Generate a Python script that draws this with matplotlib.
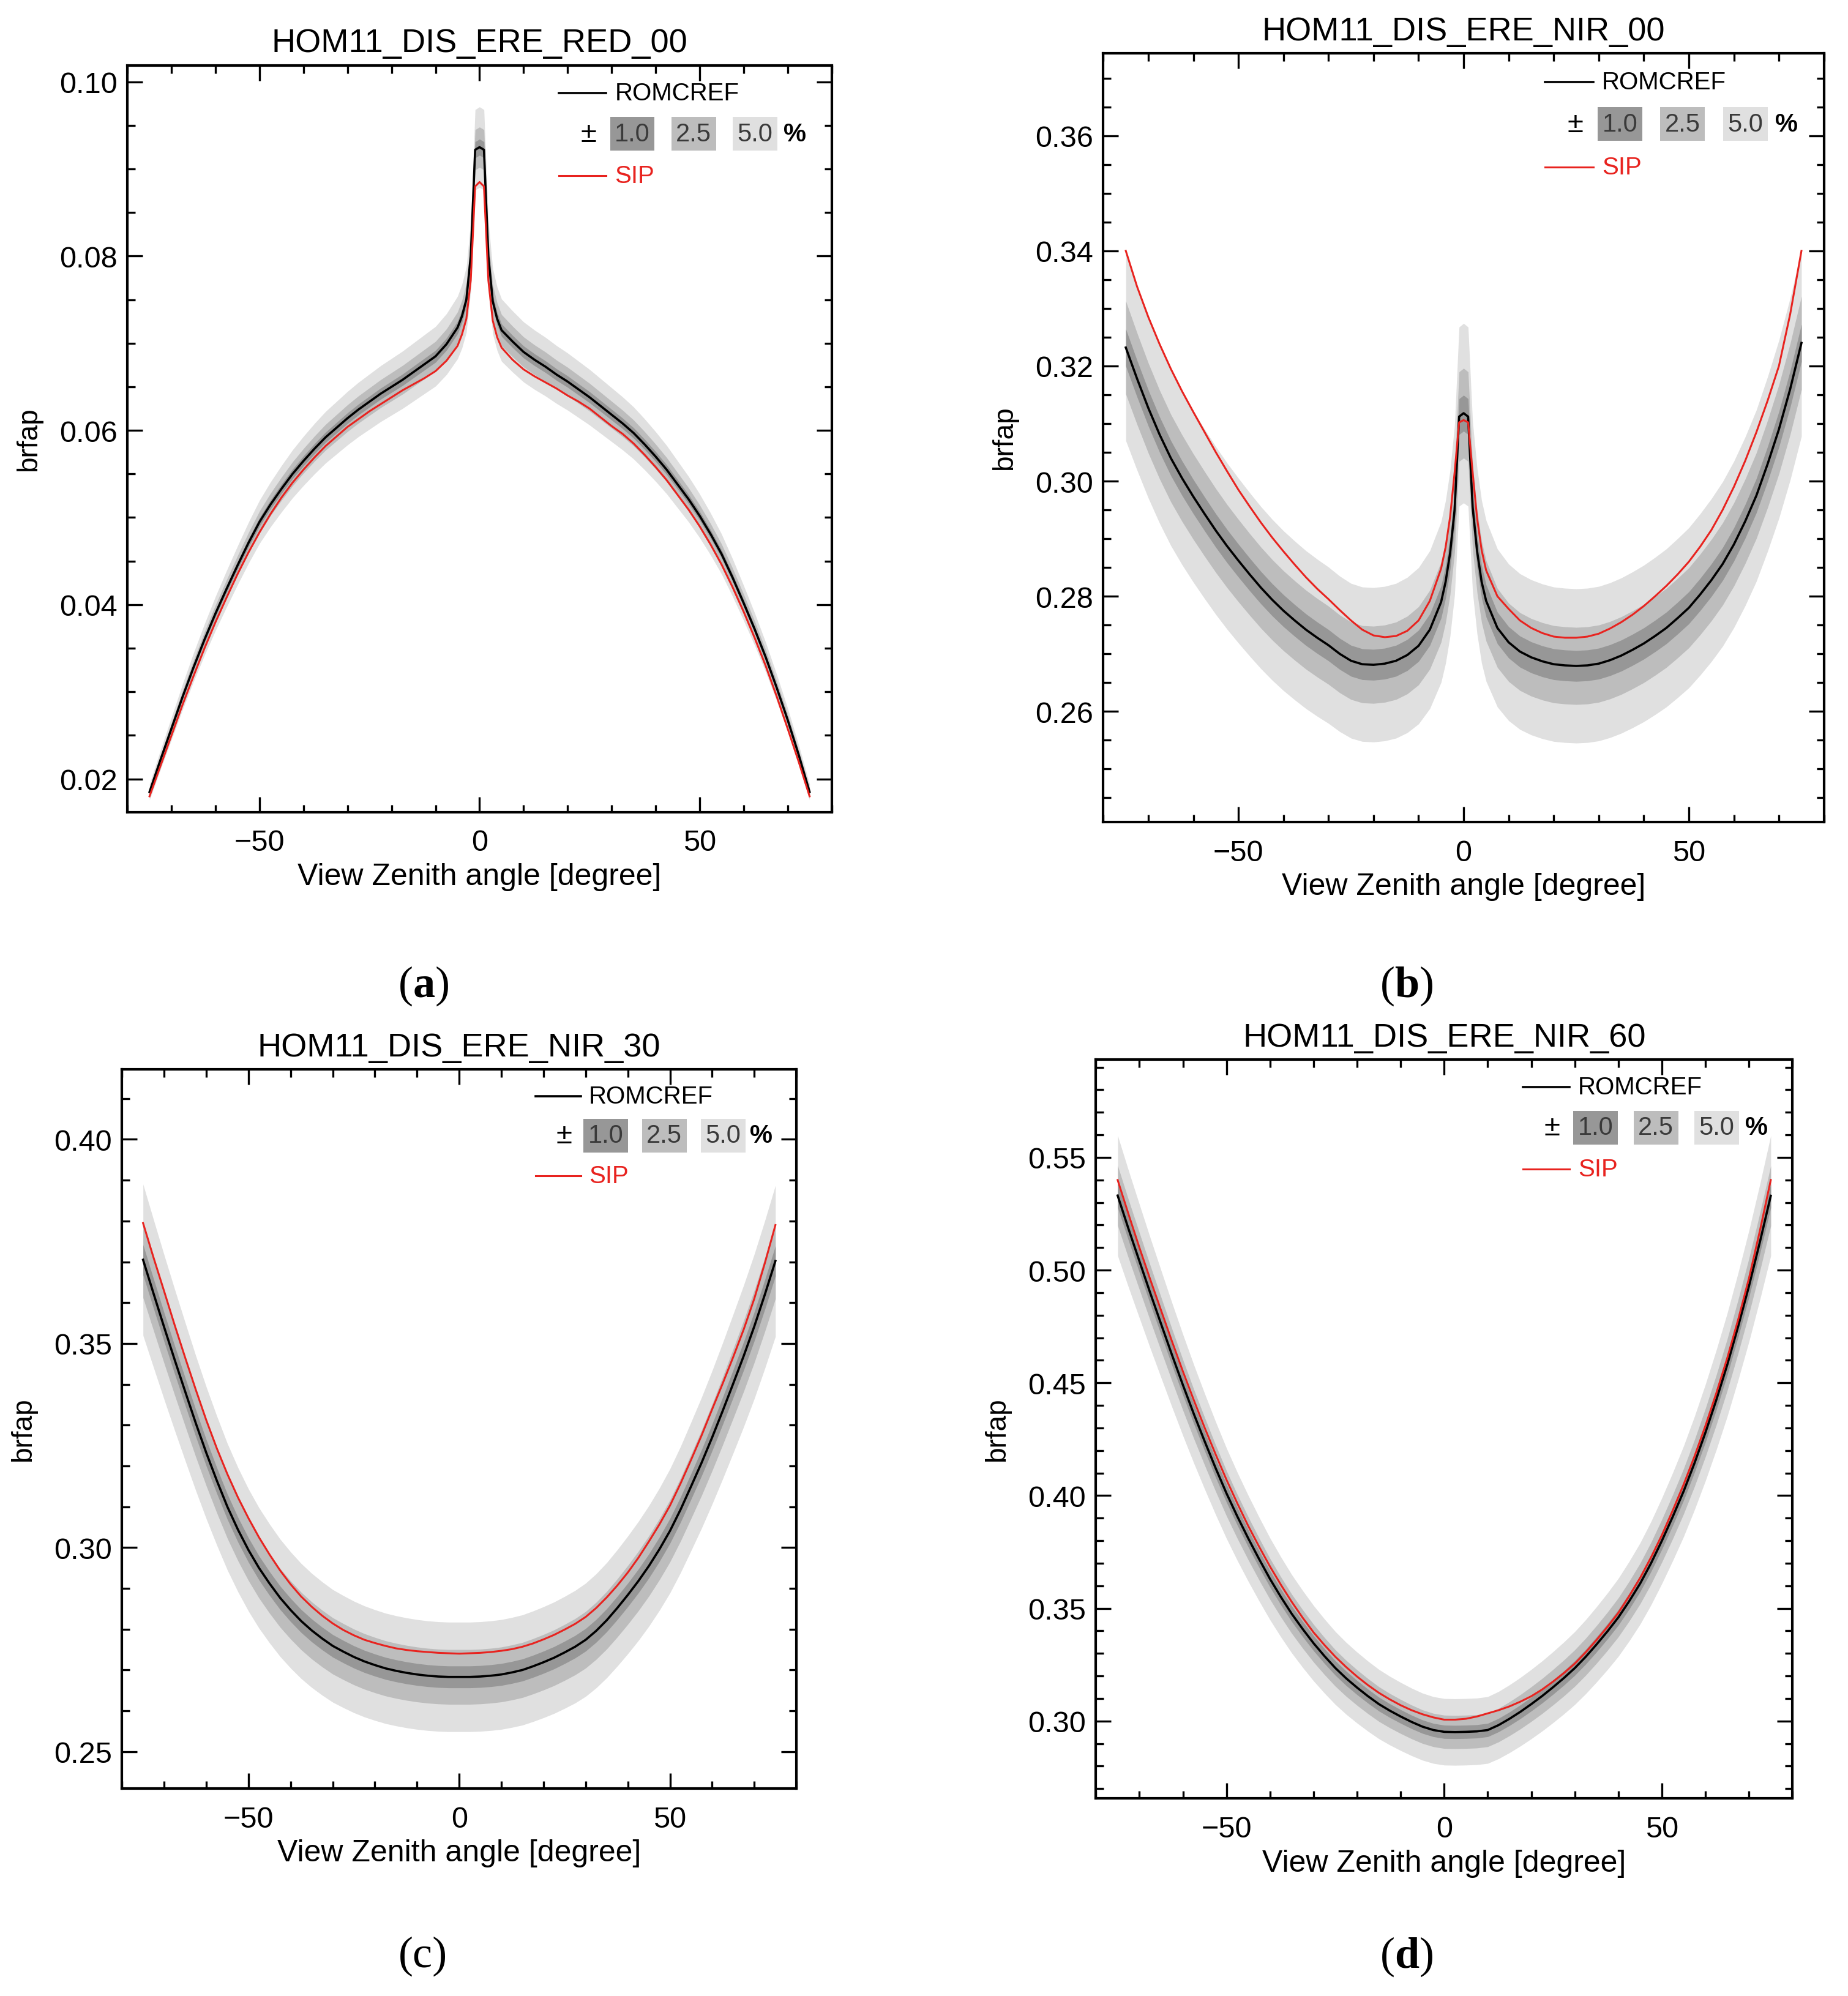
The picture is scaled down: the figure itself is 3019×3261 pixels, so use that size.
import matplotlib
matplotlib.use('Agg')
import matplotlib.pyplot as plt
from matplotlib.ticker import MultipleLocator, FormatStrFormatter

plt.rcParams['font.family'] = ['Liberation Sans', 'DejaVu Sans']
plt.rcParams['mathtext.fontset'] = 'custom'
plt.rcParams['mathtext.rm'] = 'Liberation Serif'
plt.rcParams['mathtext.bf'] = 'Liberation Serif:bold'

# view zenith angles (deg)
ang_peak = [-75, -72.5, -70, -67.5, -65, -62.5, -60, -57.5, -55, -52.5, -50, -47.5, -45, -42.5, -40,
            -37.5, -35, -32.5, -30, -27.5, -25, -22.5, -20, -17.5, -15, -12.5, -10, -7.5, -5,
            -4, -3, -2, -1, 0, 1, 2, 3, 4,
            5, 7.5, 10, 12.5, 15, 17.5, 20, 22.5, 25, 27.5, 30, 32.5, 35, 37.5, 40, 42.5, 45,
            47.5, 50, 52.5, 55, 57.5, 60, 62.5, 65, 67.5, 70, 72.5, 75]
ang_smooth = [-75, -72.5, -70, -67.5, -65, -62.5, -60, -57.5, -55, -52.5, -50, -47.5, -45, -42.5, -40,
              -37.5, -35, -32.5, -30, -27.5, -25, -22.5, -20, -17.5, -15, -12.5, -10, -7.5, -5, -2.5, 0,
              2.5, 5, 7.5, 10, 12.5, 15, 17.5, 20, 22.5, 25, 27.5, 30, 32.5, 35, 37.5, 40, 42.5, 45,
              47.5, 50, 52.5, 55, 57.5, 60, 62.5, 65, 67.5, 70, 72.5, 75]

# (a) RED 00
red00_ref = [0.0185, 0.0222, 0.0258, 0.0294, 0.0328, 0.0360, 0.0390, 0.0418, 0.0445, 0.0471, 0.0495,
             0.0515, 0.0533, 0.0550, 0.0565, 0.0579, 0.0592, 0.0603, 0.0614, 0.0624, 0.0633, 0.0642,
             0.0650, 0.0658, 0.0667, 0.0676, 0.0685, 0.0699, 0.0718,
             0.0731, 0.0750, 0.0800, 0.0922, 0.0925, 0.0922, 0.0800, 0.0748, 0.0728,
             0.0715, 0.0702, 0.0690, 0.0681, 0.0673, 0.0664, 0.0656, 0.0647, 0.0638, 0.0628, 0.0618,
             0.0608, 0.0597, 0.0584, 0.0570, 0.0555, 0.0538, 0.0521, 0.0502, 0.0481, 0.0458, 0.0431,
             0.0402, 0.0372, 0.0340, 0.0305, 0.0268, 0.0228, 0.0185]
red00_sip = [0.0180, 0.0215, 0.0250, 0.0285, 0.0318, 0.0350, 0.0380, 0.0408, 0.0435, 0.0460, 0.0483,
             0.0504, 0.0523, 0.0540, 0.0555, 0.0569, 0.0582, 0.0593, 0.0604, 0.0613, 0.0622, 0.0630,
             0.0638, 0.0646, 0.0653, 0.0660, 0.0668, 0.0680, 0.0697,
             0.0710, 0.0728, 0.0772, 0.0880, 0.0885, 0.0880, 0.0772, 0.0726, 0.0707,
             0.0695, 0.0681, 0.0670, 0.0662, 0.0655, 0.0648, 0.0640, 0.0633, 0.0625, 0.0615, 0.0605,
             0.0596, 0.0585, 0.0572, 0.0558, 0.0543, 0.0526, 0.0509, 0.0490, 0.0469, 0.0446, 0.0420,
             0.0392, 0.0362, 0.0330, 0.0295, 0.0258, 0.0220, 0.0180]

# (b) NIR 00
nir00_ref = [0.3232, 0.3178, 0.3127, 0.3081, 0.3040, 0.3005, 0.2973, 0.2943, 0.2914, 0.2887, 0.2862,
             0.2838, 0.2815, 0.2794, 0.2775, 0.2758, 0.2742, 0.2728, 0.2715, 0.2700, 0.2688, 0.2682,
             0.2681, 0.2683, 0.2688, 0.2698, 0.2714, 0.2742, 0.2790,
             0.2825, 0.2875, 0.2950, 0.3112, 0.3118, 0.3112, 0.2955, 0.2878, 0.2825,
             0.2792, 0.2745, 0.2720, 0.2704, 0.2694, 0.2687, 0.2682, 0.2680, 0.2679, 0.2680, 0.2683,
             0.2689, 0.2697, 0.2707, 0.2718, 0.2731, 0.2745, 0.2762, 0.2780, 0.2803, 0.2828, 0.2856,
             0.2890, 0.2930, 0.2975, 0.3030, 0.3090, 0.3160, 0.3240]
nir00_sip = [0.3400, 0.3338, 0.3285, 0.3238, 0.3195, 0.3156, 0.3120, 0.3085, 0.3050, 0.3017, 0.2985,
             0.2956, 0.2928, 0.2902, 0.2878, 0.2855, 0.2833, 0.2813, 0.2795, 0.2776, 0.2758, 0.2742,
             0.2732, 0.2729, 0.2731, 0.2740, 0.2758, 0.2792, 0.2848,
             0.2885, 0.2938, 0.3015, 0.3102, 0.3106, 0.3102, 0.3015, 0.2935, 0.2880,
             0.2845, 0.2800, 0.2778, 0.2758, 0.2745, 0.2736, 0.2730, 0.2728, 0.2728, 0.2730, 0.2735,
             0.2744, 0.2755, 0.2768, 0.2783, 0.2800, 0.2818, 0.2838, 0.2860, 0.2886, 0.2915, 0.2950,
             0.2990, 0.3035, 0.3085, 0.3140, 0.3200, 0.3290, 0.3400]

# (c) NIR 30
nir30_ref = [0.3705, 0.3622, 0.3540, 0.3460, 0.3382, 0.3305, 0.3232, 0.3164, 0.3100, 0.3044, 0.2994,
             0.2950, 0.2912, 0.2877, 0.2847, 0.2820, 0.2797, 0.2777, 0.2759, 0.2745, 0.2732, 0.2721,
             0.2712, 0.2704, 0.2698, 0.2693, 0.2689, 0.2686, 0.2684, 0.2683, 0.2683,
             0.2683, 0.2684, 0.2686, 0.2689, 0.2694, 0.2700, 0.2709, 0.2719, 0.2730, 0.2743, 0.2757,
             0.2774, 0.2796, 0.2822, 0.2852, 0.2884, 0.2918, 0.2955, 0.2996, 0.3041, 0.3093, 0.3150,
             0.3208, 0.3270, 0.3335, 0.3402, 0.3470, 0.3542, 0.3620, 0.3702]
nir30_sip = [0.3795, 0.3710, 0.3628, 0.3545, 0.3465, 0.3387, 0.3312, 0.3243, 0.3180, 0.3123, 0.3072,
             0.3025, 0.2983, 0.2944, 0.2910, 0.2880, 0.2855, 0.2833, 0.2814, 0.2798, 0.2785, 0.2774,
             0.2766, 0.2759, 0.2753, 0.2749, 0.2746, 0.2744, 0.2742, 0.2741, 0.2740,
             0.2741, 0.2742, 0.2744, 0.2747, 0.2751, 0.2757, 0.2765, 0.2775, 0.2786, 0.2799, 0.2813,
             0.2830, 0.2852, 0.2878, 0.2907, 0.2939, 0.2975, 0.3015, 0.3057, 0.3103, 0.3157, 0.3215,
             0.3275, 0.3339, 0.3402, 0.3467, 0.3535, 0.3610, 0.3697, 0.3790]

# (d) NIR 60
nir60_ref = [0.5331, 0.5183, 0.5040, 0.4898, 0.4760, 0.4623, 0.4490, 0.4362, 0.4240, 0.4122, 0.4010,
             0.3907, 0.3810, 0.3718, 0.3630, 0.3550, 0.3475, 0.3408, 0.3345, 0.3288, 0.3235, 0.3189,
             0.3148, 0.3110, 0.3075, 0.3046, 0.3020, 0.2996, 0.2975, 0.2960, 0.2952,
             0.2951, 0.2952, 0.2954, 0.2960, 0.2982, 0.3010, 0.3041, 0.3075, 0.3111, 0.3150, 0.3191,
             0.3235, 0.3285, 0.3340, 0.3398, 0.3460, 0.3532, 0.3610, 0.3700, 0.3800, 0.3907, 0.4020,
             0.4145, 0.4280, 0.4425, 0.4580, 0.4750, 0.4930, 0.5125, 0.5330]
nir60_sip = [0.5400, 0.5248, 0.5100, 0.4958, 0.4820, 0.4683, 0.4550, 0.4423, 0.4300, 0.4183, 0.4070,
             0.3965, 0.3865, 0.3773, 0.3685, 0.3604, 0.3528, 0.3458, 0.3393, 0.3337, 0.3285, 0.3239,
             0.3197, 0.3159, 0.3125, 0.3096, 0.3070, 0.3048, 0.3030, 0.3016, 0.3006,
             0.3006, 0.3010, 0.3020, 0.3034, 0.3048, 0.3065, 0.3086, 0.3110, 0.3140, 0.3175, 0.3213,
             0.3255, 0.3305, 0.3360, 0.3418, 0.3480, 0.3555, 0.3635, 0.3726, 0.3825, 0.3935, 0.4050,
             0.4175, 0.4310, 0.4455, 0.4610, 0.4780, 0.4965, 0.5175, 0.5400]

band_pct = [5.0, 2.5, 1.0]
band_col = ['#e0e0e0', '#bdbdbd', '#979797']

titles = ['HOM11_DIS_ERE_RED_00', 'HOM11_DIS_ERE_NIR_00', 'HOM11_DIS_ERE_NIR_30', 'HOM11_DIS_ERE_NIR_60']
panel_tags = [r'($\mathbf{a}$)', r'($\mathbf{b}$)', '(c)', r'($\mathbf{d}$)']

fig = plt.figure(figsize=(30.19, 32.62), dpi=100)
boxes = [[0.069, 0.593, 0.381, 0.374],
         [0.597, 0.588, 0.390, 0.385],
         [0.066, 0.104, 0.365, 0.360],
         [0.593, 0.099, 0.377, 0.370]]
ylims = [(0.0162, 0.1019), (0.2408, 0.3743), (0.241, 0.4171), (0.2657, 0.5934)]
ymaj = [0.02, 0.02, 0.05, 0.05]
ymin = [0.005, 0.005, 0.01, 0.01]
series = [(ang_peak, red00_ref, red00_sip), (ang_peak, nir00_ref, nir00_sip),
          (ang_smooth, nir30_ref, nir30_sip), (ang_smooth, nir60_ref, nir60_sip)]
tag_pos = [(0.229, 0.506), (0.761, 0.506), (0.229, 0.020), (0.761, 0.020)]

for i in range(4):
    ax = fig.add_axes(boxes[i])
    x, ref, sip = series[i]
    for p, c in zip(band_pct, band_col):
        lo = [v * (1 - p / 100) for v in ref]
        hi = [v * (1 + p / 100) for v in ref]
        ax.fill_between(x, lo, hi, color=c, lw=0)
    ax.plot(x, ref, color='black', lw=2.6)
    ax.plot(x, sip, color='#e8231f', lw=2.2)
    ax.set_xlim(-80, 80)
    ax.set_ylim(*ylims[i])
    ax.xaxis.set_major_locator(MultipleLocator(50))
    ax.xaxis.set_minor_locator(MultipleLocator(10))
    ax.yaxis.set_major_locator(MultipleLocator(ymaj[i]))
    ax.yaxis.set_minor_locator(MultipleLocator(ymin[i]))
    ax.yaxis.set_major_formatter(FormatStrFormatter('%.2f'))
    ax.tick_params(which='both', direction='in', top=True, right=True, width=2.4, labelsize=35)
    ax.tick_params(which='major', length=18)
    ax.tick_params(which='minor', length=9)
    ax.tick_params(axis='x', pad=20)
    ax.tick_params(axis='y', pad=12)
    for s in ax.spines.values():
        s.set_linewidth(3)
    ax.set_title(titles[i], fontsize=39, pad=16)
    ax.set_xlabel('View Zenith angle [degree]', fontsize=36, labelpad=7)
    ax.set_ylabel('brfap', fontsize=33, labelpad=20)

    # legend drawn by hand, like the IDL one
    tr = ax.transAxes
    ax.plot([0.613, 0.680], [0.963, 0.963], color='black', lw=2.6, transform=tr, clip_on=False)
    ax.text(0.692, 0.963, 'ROMCREF', transform=tr, fontsize=29, va='center', ha='left')
    ax.text(0.655, 0.908, '±', transform=tr, fontsize=34, va='center', ha='center')
    for xc, lab, c in zip([0.717, 0.804, 0.891], ['1.0', '2.5', '5.0'], band_col[::-1]):
        ax.text(xc, 0.908, lab, transform=tr, fontsize=30, va='center', ha='center', color='#3a3a3a',
                bbox=dict(boxstyle='square,pad=0.18', fc=c, ec='none'))
    ax.text(0.948, 0.908, '%', transform=tr, fontsize=30, va='center', ha='center', fontweight='bold')
    ax.plot([0.613, 0.680], [0.852, 0.852], color='#e8231f', lw=2.2, transform=tr, clip_on=False)
    ax.text(0.692, 0.852, 'SIP', transform=tr, fontsize=29, va='center', ha='left', color='#e8231f')

    fig.text(tag_pos[i][0], tag_pos[i][1], panel_tags[i], fontsize=52, ha='center', va='center',
             family='Liberation Serif')

fig.savefig('out.png', dpi=100, facecolor='white')
